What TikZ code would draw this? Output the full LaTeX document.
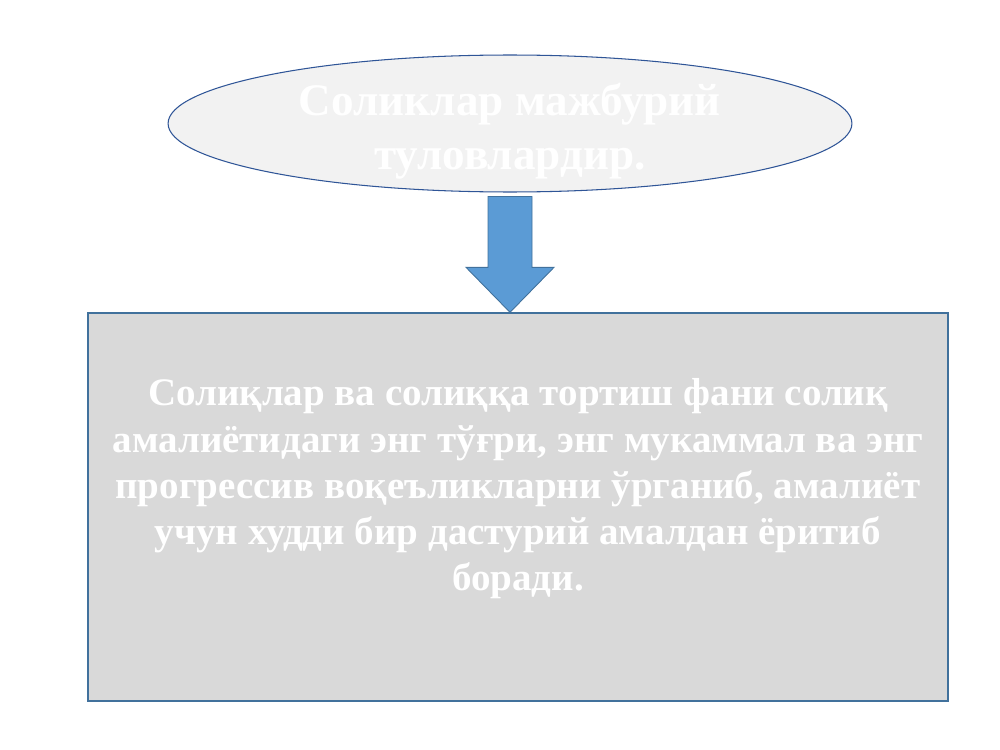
\documentclass[tikz,border=0pt]{standalone}
\usepackage{fontspec}
\setmainfont{Liberation Serif}
\usetikzlibrary{shapes, shapes.geometric}
\usetikzlibrary{calc}

\definecolor{ovalfill}{HTML}{F2F2F2}
\definecolor{ovalline}{HTML}{2F5597}
\definecolor{boxfill}{HTML}{D9D9D9}
\definecolor{boxline}{HTML}{41719C}
\definecolor{arrowfill}{HTML}{5B9BD5}

\tikzset{
    whitetext/.style={text=white, align=center, inner sep=0pt},
}

\begin{document}
\begin{tikzpicture}[x=0.02cm, y=-0.02cm]
        \useasboundingbox (0,0) rectangle (1000,750);
        % top oval
        \node[ellipse, draw=ovalline, fill=ovalfill, line width=0.6pt, inner sep=0pt,
              minimum width=13.68cm, minimum height=2.74cm] (oval) at (510,123.5) {};
        \node[whitetext, font=\bfseries\fontsize{25.7}{31}\selectfont] (ovaltext) at (510,131)
        {Соликлар мажбурий\\туловлардир.};
        % lower box
        \node[draw=boxline, fill=boxfill, line width=0.8pt, inner sep=0pt,
              minimum width=17.2cm, minimum height=7.76cm] (box) at (518,507) {};
        \node[whitetext, font=\bfseries\fontsize{22.2}{26.3}\selectfont] (boxtext) at (518,489)
        {Солиқлар ва солиққа тортиш фани солиқ\\
         амалиётидаги энг тўғри, энг мукаммал ва энг\\
         прогрессив воқеъликларни ўрганиб, амалиёт\\
         учун худди бир дастурий амалдан ёритиб\\
         боради.};
        % block arrow
        \coordinate (atop) at ($(oval.south)+(0,4)$);
        \coordinate (atip) at (oval.south |- box.north);
        \filldraw[fill=arrowfill, draw=boxline, line width=0.5pt]
            ($(atop)+(-22,0)$) -- ($(atop)+(22,0)$) -- ($(atip)+(22,-45)$) -- ($(atip)+(44,-45)$)
            -- (atip) -- ($(atip)+(-44,-45)$) -- ($(atip)+(-22,-45)$) -- cycle;
    \end{tikzpicture}
\end{document}
